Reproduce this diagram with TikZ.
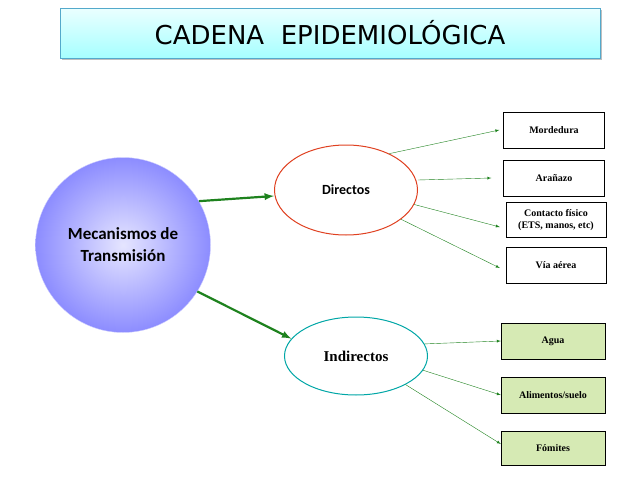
\documentclass[tikz,border=0pt]{standalone}
\usepackage{fontspec}
\setmainfont{Liberation Serif}
\newfontfamily\calib{Carlito}
\newfontfamily\titlefont{DejaVu Sans}
\usetikzlibrary{shadows,shapes.geometric}
\definecolor{arrowgreen}{RGB}{30,130,30}
\definecolor{boxgreen}{RGB}{214,234,180}
\tikzset{
    leafbox/.style={draw, minimum width=101pt, minimum height=36pt, font=\bfseries\fontsize{10}{12}\selectfont, align=center},
    thinarrow/.style={->, >=latex, arrowgreen},
    bigarrow/.style={->, >=latex, arrowgreen, line width=2.2pt}
}
\begin{document}
\begin{tikzpicture}[x=1pt,y=-1pt]
    \useasboundingbox (0,0) rectangle (638,479);
    % Title
    \node[draw=cyan!60!gray, top color=cyan!8, bottom color=cyan!35, drop shadow, minimum width=540pt, minimum height=50pt, font=\titlefont\fontsize{26}{30}\selectfont] (title) at (330,33) {CADENA\ \ EPIDEMIOLÓGICA};

    % Main circle and ellipses
    \node[circle, draw=blue!20, inner color=blue!10, outer color=blue!45, minimum size=175pt, font=\calib\bfseries\fontsize{17}{22}\selectfont, align=center] (mec) at (123,245) {Mecanismos de\\Transmisión};
    \node[ellipse, draw=red!50!brown, line width=1pt, minimum width=143pt, minimum height=90pt, font=\calib\bfseries\fontsize{14}{16}\selectfont] (dir) at (346,190) {Directos};
    \node[ellipse, draw=teal!70!cyan, line width=1pt, minimum width=143pt, minimum height=78pt, font=\bfseries\fontsize{15}{17}\selectfont] (ind) at (356,356) {Indirectos};

    % Leaf boxes
    \node[leafbox] (mor) at (554,130) {Mordedura};
    \node[leafbox] (ara) at (554,178) {Arañazo};
    \node[leafbox, minimum width=100pt, minimum height=35pt] (con) at (556,220) {Contacto físico\\(ETS, manos, etc)};
    \node[leafbox, minimum width=100pt] (via) at (556,265) {Vía aérea};
    \node[leafbox, fill=boxgreen, minimum width=104pt] (agu) at (553,341) {Agua};
    \node[leafbox, fill=boxgreen, minimum width=104pt] (ali) at (553,395) {Alimentos/suelo};
    \node[leafbox, fill=boxgreen, minimum width=104pt, minimum height=34pt] (fom) at (553,448) {Fómites};

    % Connectors
    \draw[bigarrow] (mec.30) -- (dir.west |- 0,196);
    \draw[bigarrow] (mec.-32) -- (ind.165);
    \draw[thinarrow] (dir.40) -- ([xshift=-4pt]mor.west);
    \draw[thinarrow] (dir.east |- 0,180) -- ([xshift=-12pt]ara.west);
    \draw[thinarrow] (dir.-12) -- ([xshift=-6pt,yshift=-7pt]con.west);
    \draw[thinarrow] (dir.-28) -- ([xshift=-6pt,yshift=-3pt]via.west);
    \draw[thinarrow] (ind.10) -- (agu.west);
    \draw[thinarrow] (ind.-12) -- (ali.west);
    \draw[thinarrow] (ind.-30) -- ([yshift=4pt]fom.west);
\end{tikzpicture}
\end{document}
